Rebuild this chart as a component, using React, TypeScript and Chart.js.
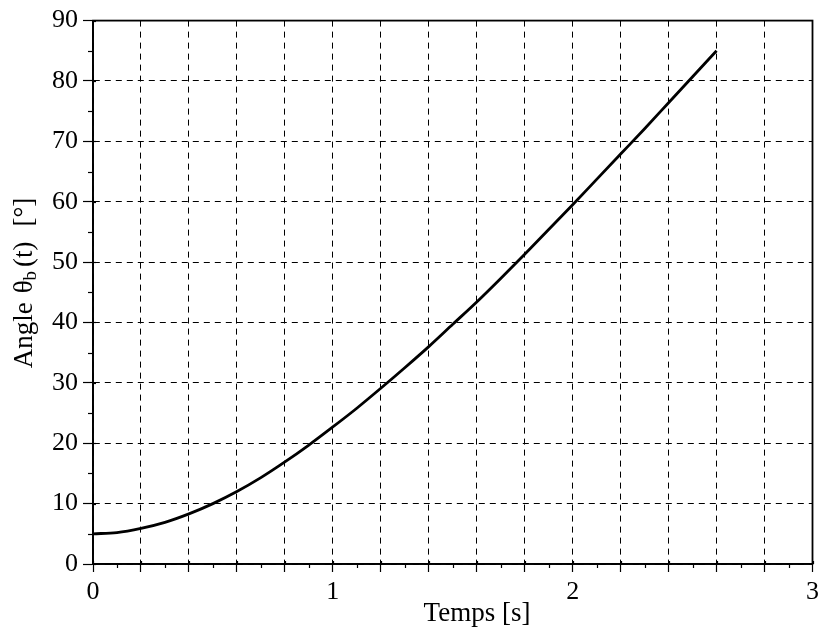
import React, { useEffect, useRef } from "react";
import { Chart, registerables } from "chart.js";

Chart.register(...registerables);

// ---- data ----
const timeS = [0, 0.1, 0.2, 0.3, 0.4, 0.5, 0.6, 0.7, 0.8, 0.9, 1.0, 1.1, 1.2, 1.3, 1.4, 1.5, 1.6, 1.7, 1.8, 1.9, 2.0, 2.1, 2.2, 2.3, 2.4, 2.5, 2.6];
const angleDeg = [5.0, 5.2, 5.9, 6.9, 8.3, 10.0, 12.0, 14.3, 16.9, 19.7, 22.7, 25.8, 29.1, 32.5, 36.0, 39.7, 43.4, 47.3, 51.3, 55.4, 59.5, 63.7, 67.9, 72.1, 76.4, 80.7, 85.0];
const xMin = 0;
const xMax = 3;
const xMajorStep = 0.2;
const xMinorTicks = [0.1, 0.3, 0.5, 0.7, 0.9, 1.1, 1.3, 1.5, 1.7, 1.9, 2.1, 2.3, 2.5, 2.7, 2.9];
const yMin = 0;
const yMax = 90;
const yMajorStep = 10;
const yMinorTicks = [5, 15, 25, 35, 45, 55, 65, 75, 85];
const xTitle = "Temps [s]";
const yTitleParts = ["Angle", "θ", "b", "(t)", "[°]"];

const FONT = "'Liberation Serif', 'DejaVu Serif', serif";

const decorPlugin = {
  id: "decor",
  afterDraw(chart: any) {
    const { ctx, chartArea, scales } = chart;
    const xs = scales.x;
    const ys = scales.y;
    ctx.save();
    ctx.strokeStyle = "#000";
    ctx.lineWidth = 1.2;
    ctx.setLineDash([]);
    for (const v of xMinorTicks) {
      const px = Math.round(xs.getPixelForValue(v)) + 0.5;
      ctx.beginPath();
      ctx.moveTo(px, chartArea.bottom);
      ctx.lineTo(px, chartArea.bottom + 4);
      ctx.stroke();
    }
    for (let v = xMin; v <= xMax + 1e-9; v += xMajorStep) {
      const px = Math.round(xs.getPixelForValue(v)) + 0.5;
      ctx.beginPath();
      ctx.moveTo(px, chartArea.bottom - 3);
      ctx.lineTo(px, chartArea.bottom);
      ctx.stroke();
    }
    for (const v of yMinorTicks) {
      const py = Math.round(ys.getPixelForValue(v)) + 0.5;
      ctx.beginPath();
      ctx.moveTo(chartArea.left - 5, py);
      ctx.lineTo(chartArea.left, py);
      ctx.stroke();
    }
    for (let v = yMin; v <= yMax + 1e-9; v += yMajorStep) {
      const py = Math.round(ys.getPixelForValue(v)) + 0.5;
      ctx.beginPath();
      ctx.moveTo(chartArea.left, py);
      ctx.lineTo(chartArea.left + 3, py);
      ctx.stroke();
    }
    ctx.lineWidth = 1.8;
    ctx.strokeRect(chartArea.left, chartArea.top, chartArea.right - chartArea.left, chartArea.bottom - chartArea.top);

    // x title
    ctx.fillStyle = "#000";
    ctx.font = `27px ${FONT}`;
    ctx.textAlign = "center";
    ctx.textBaseline = "middle";
    ctx.fillText(xTitle, 477, 614);

    // y title with subscript
    const mainFont = `27px ${FONT}`;
    const subFont = `19px ${FONT}`;
    ctx.font = mainFont;
    const wA = ctx.measureText(yTitleParts[0]).width;
    const wT = ctx.measureText(yTitleParts[1]).width;
    const wP = ctx.measureText(yTitleParts[3]).width;
    const wB = ctx.measureText(yTitleParts[4]).width;
    ctx.font = subFont;
    const wS = ctx.measureText(yTitleParts[2]).width;
    const g1 = 9;
    const g2 = 4;
    const g3 = 15;
    const total = wA + g1 + wT + wS + g2 + wP + g3 + wB;
    ctx.translate(25, 283);
    ctx.rotate(-Math.PI / 2);
    ctx.textAlign = "left";
    ctx.textBaseline = "middle";
    let cx = -total / 2;
    ctx.font = mainFont;
    ctx.fillText(yTitleParts[0], cx, 0);
    cx += wA + g1;
    ctx.fillText(yTitleParts[1], cx, 0);
    cx += wT;
    ctx.font = subFont;
    ctx.fillText(yTitleParts[2], cx, 6);
    cx += wS + g2;
    ctx.font = mainFont;
    ctx.fillText(yTitleParts[3], cx, 0);
    cx += wP + g3;
    ctx.fillText(yTitleParts[4], cx, 0);
    ctx.restore();
  },
};

const isInt = (v: number) => Math.abs(v - Math.round(v)) < 1e-9;

export default function App() {
  const ref = useRef<HTMLCanvasElement | null>(null);
  useEffect(() => {
    if (!ref.current) return;
    const chart = new Chart(ref.current, {
      type: "line",
      data: {
        datasets: [
          {
            data: timeS.map((t, i) => ({ x: t, y: angleDeg[i] })),
            borderColor: "#000",
            borderWidth: 2.8,
            pointRadius: 0,
            fill: false,
            cubicInterpolationMode: "monotone",
          },
        ],
      },
      options: {
        animation: false,
        responsive: false,
        layout: { padding: { top: 20, right: 10, left: 0, bottom: 0 } },
        plugins: { legend: { display: false }, tooltip: { enabled: false } },
        scales: {
          x: {
            type: "linear",
            min: xMin,
            max: xMax,
            afterFit: (s: any) => {
              s.height = 73;
            },
            ticks: {
              stepSize: xMajorStep,
              autoSkip: false,
              maxRotation: 0,
              padding: 5,
              color: "#000",
              font: { family: FONT, size: 26 },
              callback: (v: any) => (isInt(Number(v)) ? String(Math.round(Number(v))) : ""),
            },
            grid: {
              color: "#000",
              lineWidth: 1,
              tickLength: 8,
              tickColor: "#000",
              tickWidth: 1.2,
              tickBorderDash: [],
            },
            border: { display: true, color: "#000", width: 1.8, dash: [6, 5] },
          },
          y: {
            type: "linear",
            min: yMin,
            max: yMax,
            afterFit: (s: any) => {
              s.width = 93;
            },
            ticks: {
              stepSize: yMajorStep,
              autoSkip: false,
              padding: 5,
              color: "#000",
              font: { family: FONT, size: 26 },
            },
            grid: {
              color: "#000",
              lineWidth: 1,
              tickLength: 10,
              tickColor: "#000",
              tickWidth: 1.2,
              tickBorderDash: [],
            },
            border: { display: true, color: "#000", width: 1.8, dash: [6, 5] },
          },
        },
      } as any,
      plugins: [decorPlugin],
    });
    return () => chart.destroy();
  }, []);
  return (
    <div style={{ position: "absolute", left: 0, top: 0, width: 824, height: 637, background: "#fff" }}>
      <canvas ref={ref} width={824} height={637} style={{ display: "block", width: 824, height: 637 }} />
    </div>
  );
}
